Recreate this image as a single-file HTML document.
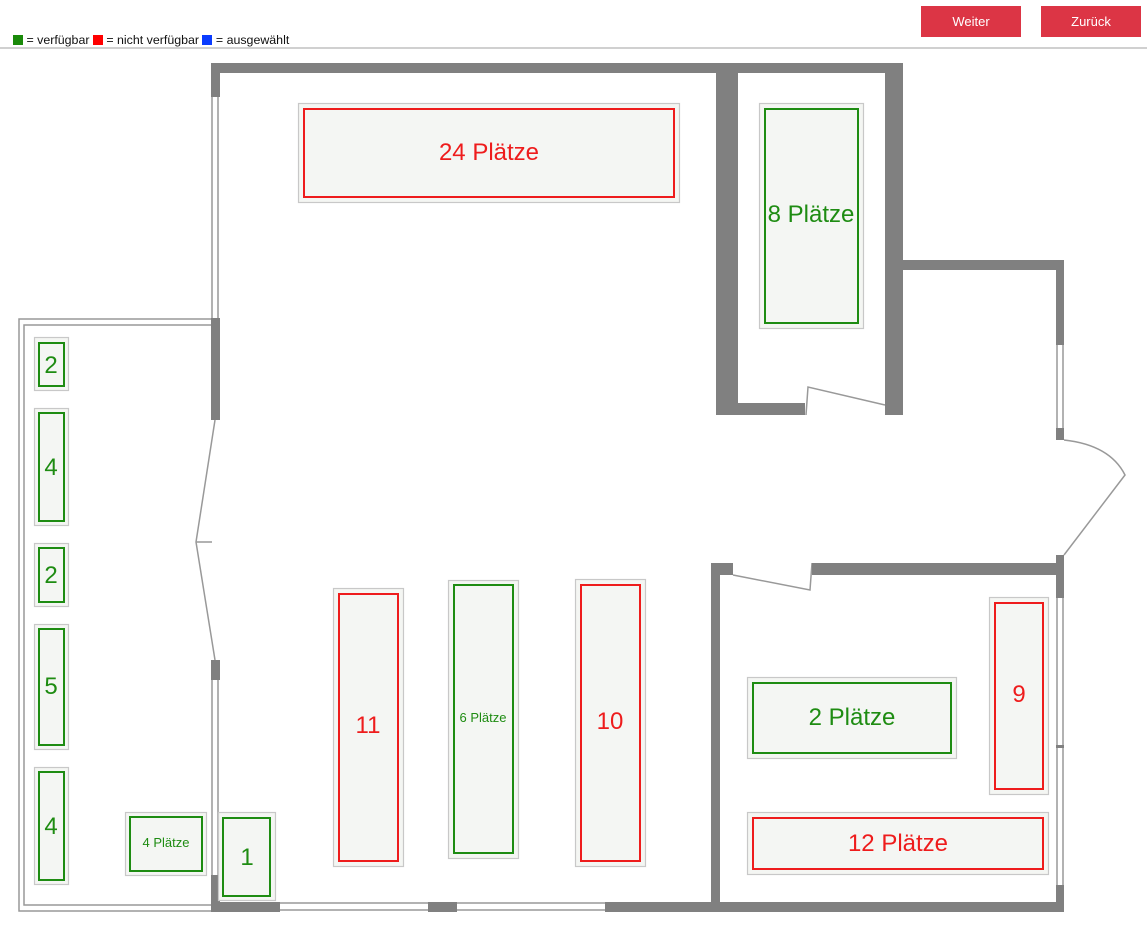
<!DOCTYPE html>
<html><head><meta charset="utf-8"><style>
html,body{margin:0;padding:0;background:#fff;width:1147px;height:937px;overflow:hidden;font-family:"Liberation Sans",Arial,sans-serif}
.btn{position:absolute;top:6px;height:31px;width:100px;background:#dc3545;color:#fff;font-size:13px;text-align:center;line-height:31px}
</style></head><body>
<div style="position:absolute;left:13px;top:33px;font-size:12.4px;color:#111;white-space:nowrap">
<span style="display:inline-block;width:10px;height:10px;background:#1a8a0a;vertical-align:-1px"></span> = verfügbar <span style="display:inline-block;width:10px;height:10px;background:#f00;vertical-align:-1px"></span> = nicht verfügbar <span style="display:inline-block;width:10px;height:10px;background:#0a3cff;vertical-align:-1px"></span> = ausgewählt</div>
<div class="btn" style="left:921px">Weiter</div>
<div class="btn" style="left:1041px">Zurück</div>
<div style="position:absolute;left:0;top:47px;width:1147px;height:2px;background:#d0d0d0"></div>
<svg width="1147" height="937" style="position:absolute;left:0;top:0" font-family="Liberation Sans, Arial, sans-serif">
<g fill="none" stroke="#999" stroke-width="1.5">
<path d="M211 319 H19 V911 H211"/><path d="M211 325 H24 V905 H211"/>
<path d="M212 97 V318 M218 97 V318"/>
<path d="M212 680 V875 M218 680 V875"/>
<path d="M280 903 H428 M280 910 H428 M457 903 H605 M457 910 H605"/>
<path d="M1057 345 V430 M1063 345 V430"/>
<path d="M1057 598 V745 M1063 598 V745 M1057 748 V885 M1063 748 V885"/>
<path d="M215 420 L196 542 L215 660 M196 542 H212"/>
<path d="M806 415 L808 387 L885 405"/>
<path d="M733 575 L810 590 L812 563"/>
<path d="M1064 440 Q1110 445 1125 475 L1064 555"/>
</g>
<g fill="#808080">
<rect x="211" y="63" width="692" height="10"/>
<rect x="211" y="63" width="9" height="34"/>
<rect x="211" y="318" width="9" height="102"/>
<rect x="211" y="660" width="9" height="20"/>
<rect x="211" y="875" width="9" height="37"/>
<rect x="211" y="902" width="69" height="10"/>
<rect x="428" y="902" width="29" height="10"/>
<rect x="605" y="902" width="459" height="10"/>
<rect x="716" y="63" width="22" height="352"/>
<rect x="716" y="403" width="89" height="12"/>
<rect x="885" y="63" width="18" height="352"/>
<rect x="885" y="260" width="179" height="10"/>
<rect x="1056" y="260" width="8" height="85"/>
<rect x="1056" y="428" width="8" height="12"/>
<rect x="1056" y="555" width="8" height="43"/>
<rect x="1056" y="745" width="8" height="3"/>
<rect x="1056" y="885" width="8" height="27"/>
<rect x="812" y="563" width="252" height="12"/>
<rect x="711" y="563" width="22" height="12"/>
<rect x="711" y="563" width="9" height="349"/>
</g>
<g stroke="#c8c8c8" fill="#f4f6f3" stroke-width="1.2">
<rect x="298.5" y="103.5" width="381" height="99"/>
<rect x="759.5" y="103.5" width="104" height="225"/>
<rect x="34.5" y="337.5" width="34" height="53"/>
<rect x="34.5" y="408.5" width="34" height="117"/>
<rect x="34.5" y="543.5" width="34" height="63"/>
<rect x="34.5" y="624.5" width="34" height="125"/>
<rect x="34.5" y="767.5" width="34" height="117"/>
<rect x="125.5" y="812.5" width="81" height="63"/>
<rect x="218.5" y="812.5" width="57" height="88"/>
<rect x="333.5" y="588.5" width="70" height="278"/>
<rect x="448.5" y="580.5" width="70" height="278"/>
<rect x="575.5" y="579.5" width="70" height="287"/>
<rect x="747.5" y="677.5" width="209" height="81"/>
<rect x="989.5" y="597.5" width="59" height="197"/>
<rect x="747.5" y="812.5" width="301" height="62"/>
</g>
<g fill="none" stroke-width="2">
<g stroke="#ee1c1c">
<rect x="304" y="109" width="370" height="88"/>
<rect x="339" y="594" width="59" height="267"/>
<rect x="581" y="585" width="59" height="276"/>
<rect x="995" y="603" width="48" height="186"/>
<rect x="753" y="818" width="290" height="51"/>
</g>
<g stroke="#1e8c12">
<rect x="765" y="109" width="93" height="214"/>
<rect x="39" y="343" width="25" height="43"/>
<rect x="39" y="413" width="25" height="108"/>
<rect x="39" y="548" width="25" height="54"/>
<rect x="39" y="629" width="25" height="116"/>
<rect x="39" y="772" width="25" height="108"/>
<rect x="130" y="817" width="72" height="54"/>
<rect x="223" y="818" width="47" height="78"/>
<rect x="454" y="585" width="59" height="268"/>
<rect x="753" y="683" width="198" height="70"/>
</g>
</g>
<g font-size="24" text-anchor="middle">
<g fill="#ee1c1c">
<text x="489" y="160">24 Plätze</text>
<text x="368" y="733">11</text>
<text x="610" y="729">10</text>
<text x="1019" y="702">9</text>
<text x="898" y="851">12 Plätze</text>
</g>
<g fill="#1e8c12">
<text x="811" y="222">8 Plätze</text>
<text x="51" y="373">2</text>
<text x="51" y="475">4</text>
<text x="51" y="583">2</text>
<text x="51" y="694">5</text>
<text x="51" y="834">4</text>
<text x="247" y="865">1</text>
<text x="852" y="725">2 Plätze</text>
<text x="166" y="847" font-size="13">4 Plätze</text>
<text x="483" y="722" font-size="13">6 Plätze</text>
</g>
</g>
</svg>
</body></html>
